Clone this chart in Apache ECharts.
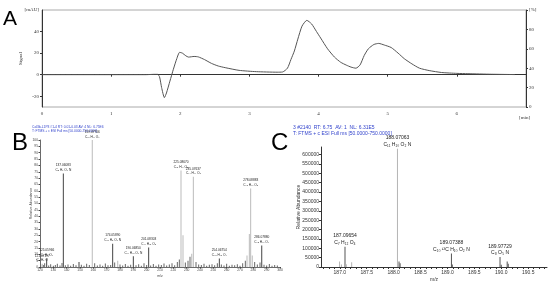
<!DOCTYPE html>
<html><head><meta charset="utf-8">
<script src="https://cdn.jsdelivr.net/npm/echarts@6/dist/echarts.min.js"></script>
<style>html,body{margin:0;padding:0;background:#fff}#c{width:550px;height:284px}</style>
</head><body><div id="c"></div>
<script>
// ---------- Panel A: chromatogram ----------
const timeMin = [0, 1.0, 1.5, 1.62, 1.67, 1.70, 1.73, 1.77, 1.80, 1.85, 1.90, 1.95, 1.99, 2.03, 2.08, 2.12, 2.20, 2.26, 2.35, 2.45, 2.55, 2.65, 2.85, 3.1, 3.4, 3.48, 3.55, 3.60, 3.65, 3.70, 3.76, 3.83, 3.90, 3.97, 4.03, 4.13, 4.23, 4.32, 4.40, 4.47, 4.54, 4.60, 4.66, 4.72, 4.80, 4.87, 4.95, 5.05, 5.15, 5.24, 5.35, 5.46, 5.60, 5.78, 6.0, 6.16, 6.5, 6.84];
const signalMAU = [0, 0, 0, 0.3, 0.3, -2, -12, -21.3, -17, -6, 5, 15, 20.7, 20, 17.5, 16.3, 16.9, 16.5, 14, 10.5, 8, 6.5, 4, 2.8, 2.3, 2.5, 6, 14, 22, 33, 45, 50.4, 47, 40, 34, 24, 16.3, 11.5, 8.9, 7, 6, 9, 17.8, 24, 28, 29, 27.5, 25.2, 20, 14.8, 10, 6, 3.8, 2, 1.2, 0.9, 0.4, 0.1];
const aLeftTicks = [-20, 0, 20, 40];
const aTimeTicks = [0, 1, 2, 3, 4, 5, 6];

// ---------- Panel B: full mass spectrum ----------
const bMz = [121.7, 125.0, 137.5, 149.25, 159.2, 174.5, 178.3, 190.0, 201.5, 225.75, 227.25, 233.8, 235.0, 254.5, 275.25, 277.0, 278.0, 279.2, 286.3];
const bRel = [2.6, 6.6, 73.7, 4, 100, 18.4, 5, 8.4, 15.3, 76, 25, 10.5, 71, 6.6, 9, 26, 61.8, 9, 17];
const bDark = [0, 1, 1, 1, 0, 1, 0, 1, 1, 0, 0, 0, 0, 1, 0, 0, 0, 0, 1];
const bLabelMz = ['121.07197', '125.05966', '137.06083', '', '159.07706', '174.05890', '', '190.06850', '201.08303', '225.08670', '', '', '235.07637', '254.06754', '', '', '278.08883', '', '286.07880'];
const bLabelFormula = ['C₈ H₉ O', 'C₇ H₉ O₂', 'C₈ H₉ O₂ N', '', 'C₁₀ H₁₁ O₂', 'C₁₀ H₈ O₂ N', '', 'C₁₁ H₁₀ O₂ N', 'C₁₁ H₁₃ O₃', 'C₁₃ H₁₁ O₃', '', '', 'C₁₄ H₁₁ O₃', 'C₁₃ H₁₀ O₄', '', '', 'C₁₆ H₁₂ O₃', '', 'C₁₅ H₁₂ O₄'];
const bNoiseMz = [120.5, 122.5, 123.5, 126.5, 128, 130, 131.5, 133, 135, 136.5, 139, 141, 143, 145, 147, 151, 153, 155, 157, 161, 163, 165, 167, 169, 171, 173, 176, 180, 182, 184, 186, 188, 192, 194, 196, 198, 200, 203, 205, 207, 209, 211, 213, 215, 217, 219, 221, 223, 224.5, 229, 231, 232.5, 237, 239, 241, 243, 245, 247, 249, 251, 253, 256, 258, 260, 262, 264, 266, 268, 270, 272, 274, 281, 283, 285, 288, 290, 292, 294, 296, 298];
const bNoiseRel = [2, 1.5, 3, 1.2, 2.2, 1, 1.6, 2.5, 1.1, 3.2, 1.4, 2, 1, 2.4, 1.3, 1.8, 1, 2.6, 1.5, 3, 1.2, 2, 1, 2.8, 1.4, 1.6, 3.5, 2, 1.2, 2.4, 1, 1.8, 1.4, 2.2, 1, 3, 1.6, 1.2, 2.4, 1, 2, 1.5, 2.8, 1.2, 2, 3, 1.4, 4, 6, 3.5, 5, 8, 4, 2, 1.5, 2.5, 1, 1.8, 2.2, 1.3, 3, 2, 1.2, 2.5, 1, 1.8, 1.4, 2.2, 1, 3, 5, 4, 2, 3.5, 1.8, 1.2, 2.4, 1, 1.6, 1.2];
const bTicks = [120, 130, 140, 150, 160, 170, 180, 190, 200, 210, 220, 230, 240, 250, 260, 270, 280, 290, 300];
const bRelTicks = [0, 5, 10, 15, 20, 25, 30, 35, 40, 45, 50, 55, 60, 65, 70, 75, 80, 85, 90, 95, 100];

// ---------- Panel C: zoomed mass spectrum ----------
const cMz = [186.995, 187.03, 187.096, 187.12, 187.22, 188.071, 188.10, 188.12, 189.074, 189.09, 189.977, 190.0, 190.11, 190.13];
const cAbund = [30000, 14000, 108000, 15000, 25000, 631000, 30000, 20000, 72000, 14000, 53000, 12000, 30000, 18000];
const cDark = [0, 0, 1, 0, 0, 0, 1, 1, 1, 1, 1, 1, 1, 1];
const cLabelMz = ['', '', '187.09654', '', '', '188.07063', '', '', '189.07388', '', '189.97729', '', '', ''];
const cLabelFormula = ['', '', 'C₇ H₁₂ O₄', '', '', 'C₁₁ H₁₀ O₂ N', '', '', 'C₁₀ ¹³C H₁₀ O₂ N', '', 'C₈ O₅ N', '', '', ''];
const cMzLabels = [187.0, 187.5, 188.0, 188.5, 189.0, 189.5, 190.0, 190.5];
const cMzMinor = [186.7,186.8,186.9,187.0,187.1,187.2,187.3,187.4,187.5,187.6,187.7,187.8,187.9,188.0,188.1,188.2,188.3,188.4,188.5,188.6,188.7,188.8,188.9,189.0,189.1,189.2,189.3,189.4,189.5,189.6,189.7,189.8,189.9,190.0,190.1,190.2,190.3,190.4,190.5,190.6,190.7,190.8];
const cAbundTicks = [0, 50000, 100000, 150000, 200000, 250000, 300000, 350000, 400000, 450000, 500000, 550000, 600000];

const serif = 'Liberation Serif';
const sans = 'Liberation Sans';
const blue = '#3344cc';

function stickData(xs, ys, darkFlags, mzL, fL, fs, darkCol, lightCol) {
  return xs.map((x, i) => ({
    value: [x, ys[i]],
    itemStyle: { color: darkFlags[i] ? darkCol : lightCol },
    label: (mzL && mzL[i]) ? { show: true, position: 'top', distance: 1, formatter: mzL[i] + '\n' + fL[i], fontSize: fs, lineHeight: fs + 1.5, color: '#222', fontFamily: sans } : { show: false }
  }));
}

const chart = echarts.init(document.getElementById('c'), null, { renderer: 'canvas' });
const option = {
  animation: false,
  grid: [
    { left: 42, top: 10, width: 484, height: 97, show: true, borderColor: '#aaa', borderWidth: 1 },
    { left: 40, top: 140, width: 240, height: 127 },
    { left: 321, top: 147, width: 226, height: 120 }
  ],
  xAxis: [
    { gridIndex: 0, type: 'value', min: 0, max: 7, splitLine: { show: false },
      axisLine: { lineStyle: { color: '#333', width: 1 } },
      axisTick: { length: 2, customValues: aTimeTicks.concat([7]), lineStyle: { color: '#333' } },
      axisLabel: { customValues: aTimeTicks, fontSize: 5, fontFamily: serif, color: '#333', margin: 4 } },
    { gridIndex: 1, type: 'value', min: 120, max: 300, splitLine: { show: false },
      axisLine: { lineStyle: { color: '#444', width: 0.8 } },
      axisTick: { length: 1.5, customValues: bTicks, lineStyle: { color: '#444' } },
      axisLabel: { customValues: bTicks, fontSize: 3.3, fontFamily: sans, color: '#444', margin: 2 },
      name: 'm/z', nameLocation: 'middle', nameGap: 7, nameMoveOverlap: false, nameTextStyle: { fontSize: 3.5, fontFamily: sans, color: '#444' } },
    { gridIndex: 2, type: 'value', min: 186.65, max: 190.85, splitLine: { show: false },
      axisLine: { lineStyle: { color: '#333', width: 1 } },
      axisTick: { length: 2, customValues: cMzMinor, lineStyle: { color: '#333' } },
      axisLabel: { customValues: cMzLabels, fontSize: 5, fontFamily: sans, color: '#333', margin: 3, formatter: v => v.toFixed(1) },
      name: 'm/z', nameLocation: 'middle', nameGap: 10, nameMoveOverlap: false, nameTextStyle: { fontSize: 5, fontFamily: sans, color: '#333' } }
  ],
  yAxis: [
    { gridIndex: 0, type: 'value', min: -30, max: 60, splitLine: { show: false },
      axisLine: { show: true, lineStyle: { color: '#333', width: 1 } },
      axisTick: { show: true, length: 2, customValues: aLeftTicks, lineStyle: { color: '#333' } },
      axisLabel: { customValues: aLeftTicks.concat([60]), fontSize: 5, fontFamily: serif, color: '#333', margin: 3, formatter: v => v === 60 ? '[mAU]' : String(v) },
      name: 'Signal', nameLocation: 'middle', nameGap: 19, nameMoveOverlap: false, nameTextStyle: { fontSize: 5, fontFamily: serif, color: '#333' } },
    { gridIndex: 0, type: 'value', position: 'right', min: 0, max: 100, interval: 20, splitLine: { show: false },
      axisLine: { show: true, lineStyle: { color: '#333', width: 1 } },
      axisTick: { show: true, length: 2, lineStyle: { color: '#333' } },
      axisLabel: { fontSize: 5, fontFamily: serif, color: '#333', margin: 3, formatter: v => v === 100 ? '[%]' : String(v) } },
    { gridIndex: 1, type: 'value', min: 0, max: 100, splitLine: { show: false },
      axisLine: { show: true, lineStyle: { color: '#444', width: 0.8 } },
      axisTick: { show: true, length: 1.5, customValues: bRelTicks, lineStyle: { color: '#444' } },
      axisLabel: { customValues: bRelTicks, fontSize: 3.3, fontFamily: sans, color: '#444', margin: 2 },
      name: 'Relative Abundance', nameLocation: 'middle', nameGap: 7, nameMoveOverlap: false, nameTextStyle: { fontSize: 3.5, fontFamily: sans, color: '#444' } },
    { gridIndex: 2, type: 'value', min: 0, max: 640000, splitLine: { show: false },
      axisLine: { show: true, lineStyle: { color: '#333', width: 1 } },
      axisTick: { show: true, length: 2, customValues: cAbundTicks, lineStyle: { color: '#333' } },
      axisLabel: { customValues: cAbundTicks, fontSize: 5, fontFamily: sans, color: '#333', margin: 2, formatter: v => String(v) },
      name: 'Relative Abundance', nameLocation: 'middle', nameGap: 20, nameMoveOverlap: false, nameTextStyle: { fontSize: 5, fontFamily: sans, color: '#333' } }
  ],
  series: [
    { type: 'line', xAxisIndex: 0, yAxisIndex: 0, data: timeMin.map((t, i) => [t, signalMAU[i]]),
      showSymbol: false, smooth: 0.2, lineStyle: { color: '#555', width: 1 } },
    { type: 'bar', xAxisIndex: 1, yAxisIndex: 2, barWidth: 0.7, data: bNoiseMz.map((x, i) => [x, bNoiseRel[i]]), itemStyle: { color: '#666' } },
    { type: 'bar', xAxisIndex: 1, yAxisIndex: 2, barWidth: 0.9, barGap: '-100%',
      data: stickData(bMz, bRel, bDark, bLabelMz, bLabelFormula, 3.2, '#444', '#bbb') },
    { type: 'bar', xAxisIndex: 2, yAxisIndex: 3, barWidth: 1,
      data: stickData(cMz, cAbund, cDark, cLabelMz, cLabelFormula, 5, '#555', '#b5b5b5') }
  ],
  graphic: [
    { type: 'text', left: 3, top: 9, style: { text: 'A', fontSize: 21, fontFamily: sans, fill: '#000' } },
    { type: 'text', left: 12, top: 131, style: { text: 'B', fontSize: 24, fontFamily: sans, fill: '#000' } },
    { type: 'text', left: 271, top: 131, style: { text: 'C', fontSize: 24, fontFamily: sans, fill: '#000' } },
    { type: 'text', left: 519, top: 115, style: { text: '[min]', fontSize: 5, fontFamily: serif, fill: '#333' } },
    { type: 'text', left: 32, top: 125.5, style: { text: 'Cal3b-L1P3 #1-4 RT: 0.01-0.03 AV: 4 NL: 6.75E6', fontSize: 3.3, fontFamily: sans, fill: blue } },
    { type: 'text', left: 32, top: 129.5, style: { text: 'T: FTMS + c ESI Full ms [50.0000-750.0000]', fontSize: 3.3, fontFamily: sans, fill: blue } },
    { type: 'text', left: 293, top: 125.5, style: { text: '3 #2140  RT: 6.75  AV: 1  NL: 6.31E5', fontSize: 5, fontFamily: sans, fill: blue } },
    { type: 'text', left: 293, top: 131.5, style: { text: 'T: FTMS + c ESI Full ms [50.0000-750.0000]', fontSize: 5, fontFamily: sans, fill: blue } }
  ]
};
chart.setOption(option);
</script></body></html>
